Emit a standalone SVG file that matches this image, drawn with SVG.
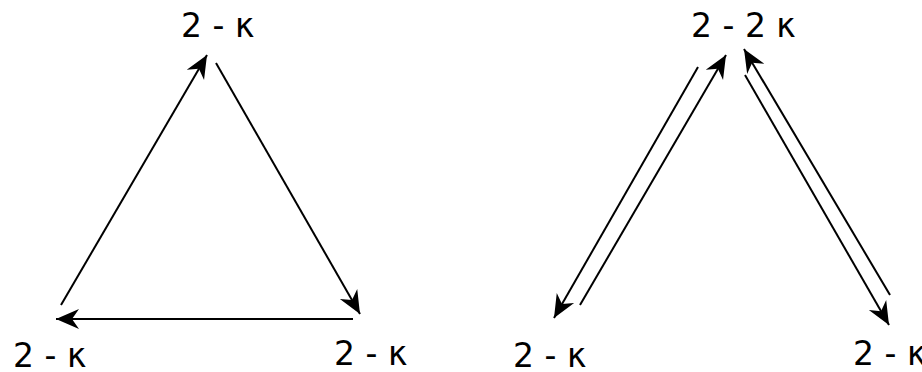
<svg xmlns="http://www.w3.org/2000/svg" width="922" height="372" viewBox="0 0 922 372">
<style>
.lbl{font-family:"DejaVu Sans","Liberation Sans",sans-serif;font-size:33px;fill:#000}
.ea{stroke:#000;stroke-width:2;fill:none;marker-end:url(#ah)}
</style>
<defs>
<marker id="ah" markerUnits="userSpaceOnUse" markerWidth="28" markerHeight="24" viewBox="-26 -12 28 24" refX="0" refY="0" orient="auto" overflow="visible">
<path d="M0,0 L-23,-10 L-16,0 L-23,10 Z" fill="#000"/>
</marker>
</defs>
<rect width="922" height="372" fill="#fff"/>
<g id="connectors">
<line class="ea" x1="61" y1="305" x2="207" y2="55"/>
<line class="ea" x1="216" y1="63" x2="360" y2="314"/>
<line class="ea" x1="353" y1="319" x2="56" y2="319"/>
<line class="ea" x1="698" y1="67" x2="554" y2="318"/>
<line class="ea" x1="580" y1="305" x2="726" y2="55"/>
<line class="ea" x1="890" y1="295" x2="744" y2="49"/>
<line class="ea" x1="745" y1="75" x2="889" y2="325"/>
</g>
<g id="n1"><text class="lbl" x="181" y="37">2 - κ</text></g>
<g id="n2"><text class="lbl" x="13" y="367">2 - κ</text></g>
<g id="n3"><text class="lbl" x="334" y="365">2 - κ</text></g>
<g id="n4"><text class="lbl" x="691" y="37">2 - 2 κ</text></g>
<g id="n5"><text class="lbl" x="513" y="367">2 - κ</text></g>
<g id="n6"><text class="lbl" x="853" y="365">2 - κ</text></g>
</svg>
